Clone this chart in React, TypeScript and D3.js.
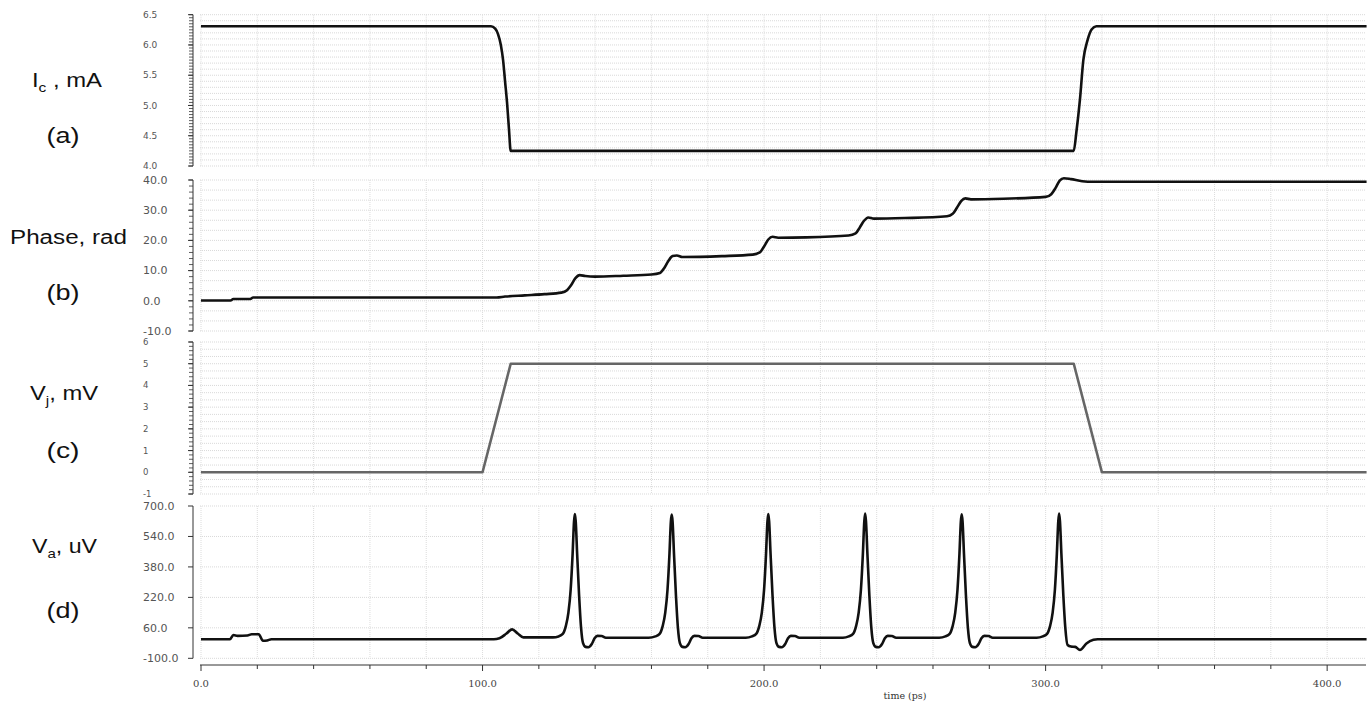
import React from "react";
import * as d3 from "d3";

const W = 1372;
const H = 704;

// time axis (ps)
const timeMax = 413.8;
const timeTicks = [0, 100, 200, 300, 400];

// (a) Ic, mA
const icTicks = [4.0, 4.5, 5.0, 5.5, 6.0, 6.5];
const icData: [number, number][] = [
  [0, 6.31], [103, 6.31], [104.5, 6.27], [105.5, 6.18], [106.5, 6.0], [107.3, 5.75],
  [108, 5.4], [108.7, 5.05], [109.4, 4.6], [110, 4.25], [310, 4.25], [310.9, 4.55],
  [312.2, 5.1], [313.4, 5.75], [314.9, 6.08], [316.4, 6.26], [318, 6.31], [414, 6.31]
];

// (b) Phase, rad
const phaseTicks = [-10, 0, 10, 20, 30, 40];
const phaseData: [number, number][] = [
  [0, 0.1], [10.5, 0.1], [11.5, 0.6], [17.5, 0.6], [18.5, 1.1], [105, 1.1], [108, 1.4],
  [115, 1.8], [122, 2.2], [128, 2.7], [130, 3.5], [131.5, 5.2], [133, 7.5], [134.5, 8.5],
  [136.5, 8.2], [140, 8.0], [150, 8.3], [160, 8.7], [163, 9.2], [164.5, 10.8], [166, 13.2],
  [167.5, 14.8], [169, 15.0], [171, 14.5], [185, 14.8], [196, 15.3], [198.5, 16.0], [200, 18],
  [201.5, 20.3], [203, 21.2], [205, 20.9], [215, 21.0], [230, 21.6], [232.5, 22.3], [234, 24.3],
  [235.5, 26.5], [237, 27.6], [239, 27.2], [250, 27.4], [265, 28.0], [267, 28.8], [268.5, 30.8],
  [270, 33.0], [271.5, 33.9], [273.5, 33.6], [285, 33.8], [300, 34.4], [302, 35.3], [303.5, 37.3],
  [305, 39.8], [306.5, 40.6], [309, 40.3], [313, 39.6], [317, 39.4], [414, 39.4]
];

// (c) Vj, mV
const vjTicks = [-1, 0, 1, 2, 3, 4, 5, 6];
const vjData: [number, number][] = [
  [0, 0], [100, 0], [110, 5], [310, 5], [320, 0], [414, 0]
];

// (d) Va, uV
const vaTicks = [-100, 60, 220, 380, 540, 700];
const vaData: [number, number][] = [
  [0, 0], [10.3, 0], [11.5, 22], [13, 18], [16.5, 20], [18, 26], [20.5, 26], [22, -8], [23.5, -6], [25, 0],
  [104, 0], [106, 5], [108.5, 30], [110.5, 52], [112.5, 30], [114.5, 10], [125, 10],
  [127, 15], [128.5, 28], [129.6, 70], [130.5, 140], [131.3, 260], [132, 450], [132.5, 620], [132.8, 658],
  [133.1, 620], [133.6, 450], [134.3, 230], [135, 60], [135.7, -20], [136.6, -40], [137.6, -42],
  [138.8, -25], [139.8, 5], [140.8, 18], [142.3, 17], [143.8, 8], [159, 8],
  [161.4, 15], [162.9, 28], [164, 70], [164.9, 140], [165.7, 260], [166.4, 450], [166.9, 620], [167.2, 655],
  [167.5, 620], [168, 450], [168.7, 230], [169.4, 60], [170.1, -20], [171, -40], [172, -42],
  [173.2, -25], [174.2, 5], [175.2, 18], [176.7, 17], [178.2, 8], [193.5, 8],
  [195.7, 15], [197.2, 28], [198.3, 70], [199.2, 140], [200, 260], [200.7, 450], [201.2, 620], [201.5, 658],
  [201.8, 620], [202.3, 450], [203, 230], [203.7, 60], [204.4, -20], [205.3, -40], [206.3, -42],
  [207.5, -25], [208.5, 5], [209.5, 18], [211, 17], [212.5, 8], [228, 8],
  [230.1, 15], [231.6, 28], [232.7, 70], [233.6, 140], [234.4, 260], [235.1, 450], [235.6, 620], [235.9, 660],
  [236.2, 620], [236.7, 450], [237.4, 230], [238.1, 60], [238.8, -20], [239.7, -40], [240.7, -42],
  [241.9, -25], [242.9, 5], [243.9, 18], [245.4, 17], [246.9, 8], [262.2, 8],
  [264.4, 15], [265.9, 28], [267, 70], [267.9, 140], [268.7, 260], [269.4, 450], [269.9, 620], [270.2, 657],
  [270.5, 620], [271, 450], [271.7, 230], [272.4, 60], [273.1, -20], [274, -40], [275, -42],
  [276.2, -25], [277.2, 5], [278.2, 18], [279.7, 17], [281.2, 8], [296.8, 8],
  [299, 15], [300.5, 28], [301.6, 70], [302.5, 140], [303.3, 260], [304, 450], [304.5, 620], [304.8, 660],
  [305.1, 620], [305.6, 450], [306.3, 230], [307, 60], [307.8, -30], [309, -38], [310.5, -40],
  [312.2, -56], [314.5, -22], [317, -3], [318.5, 0], [414, 0]
];

// plain hyphen minus like the original plot
const fmt1 = (v: number) => v.toFixed(1);
const fmt0 = (v: number) => v.toFixed(0);

type Panel = {
  key: string;
  domain: [number, number];
  range: [number, number];
  ticks: number[];
  minorStep: number;
  gridStep: number;
  fmt: (v: number) => string;
  fontSize: number;
  data: [number, number][];
  color: string;
  curve: d3.CurveFactory;
};

const panels: Panel[] = [
  { key: "a", domain: [4.0, 6.5], range: [166, 14.7], ticks: icTicks, minorStep: 0.05, gridStep: 0.1,
    fmt: fmt1, fontSize: 9, data: icData, color: "#111", curve: d3.curveMonotoneX },
  { key: "b", domain: [-10, 40], range: [331, 180], ticks: phaseTicks, minorStep: 2, gridStep: 10 / 3,
    fmt: fmt1, fontSize: 11, data: phaseData, color: "#111", curve: d3.curveMonotoneX },
  { key: "c", domain: [-1, 6], range: [494, 342], ticks: vjTicks, minorStep: 0.2, gridStep: 1 / 3,
    fmt: fmt0, fontSize: 8.5, data: vjData, color: "#666", curve: d3.curveLinear },
  { key: "d", domain: [-100, 700], range: [658.3, 506], ticks: vaTicks, minorStep: 0, gridStep: 160,
    fmt: fmt1, fontSize: 11, data: vaData, color: "#111", curve: d3.curveMonotoneX }
];

const X0 = 200;
const X1 = 1366;
const AXIS_X = 193;
const XAXIS_Y = 665;

const sideLabels = [
  { y: 87, main: "I", sub: "c", rest: " , mA", x: 32, len: 70 },
  { y: 244, main: "Phase, rad", sub: "", rest: "", x: 10, len: 117 },
  { y: 400, main: "V", sub: "j", rest: ", mV", x: 30, len: 68 },
  { y: 553, main: "V", sub: "a", rest: ", uV", x: 32, len: 65 }
];
const letterLabels = [
  { y: 143, t: "(a)" },
  { y: 300, t: "(b)" },
  { y: 458, t: "(c)" },
  { y: 618, t: "(d)" }
];

export default function App() {
  const x = d3.scaleLinear().domain([0, timeMax]).range([201, 1366]);
  const vGrid = d3.range(0, 401, 20);
  const minorX = d3.range(0, 414, 20);
  const font = "'Liberation Sans', Arial, sans-serif";

  return (
    <svg width={W} height={H} style={{ position: "absolute", left: 0, top: 0, background: "#fff" }}
      fontFamily={font}>
      <rect width={W} height={H} fill="#fff" />
      {panels.map(p => {
        const y = d3.scaleLinear().domain(p.domain).range(p.range);
        const line = d3.line<[number, number]>().x(d => x(d[0])).y(d => y(d[1])).curve(p.curve);
        const hGrid = d3.range(p.domain[0], p.domain[1] + 1e-6, p.gridStep);
        const minor = p.minorStep > 0 ? d3.range(p.domain[0], p.domain[1] + 1e-6, p.minorStep) : [];
        const [yb, yt] = p.range;
        return (
          <g key={p.key}>
            {hGrid.map((g, i) => (
              <line key={"h" + i} x1={X0} x2={X1} y1={y(g)} y2={y(g)}
                stroke="#d9d9d9" strokeWidth={1} strokeDasharray="1,1" />
            ))}
            {vGrid.map(t => (
              <line key={"v" + t} x1={x(t)} x2={x(t)} y1={yt} y2={yb}
                stroke="#dcdcdc" strokeWidth={1} strokeDasharray="1,1" />
            ))}
            <line x1={AXIS_X} x2={AXIS_X} y1={yt} y2={yb} stroke="#333" strokeWidth={1} />
            {minor.map((m, i) => (
              <line key={"m" + i} x1={AXIS_X - 4} x2={AXIS_X} y1={y(m)} y2={y(m)} stroke="#333" strokeWidth={0.8} />
            ))}
            {p.ticks.map(t => (
              <g key={"t" + t}>
                <line x1={AXIS_X - 5} x2={AXIS_X} y1={y(t)} y2={y(t)} stroke="#333" strokeWidth={1} />
                <text x={143} y={y(t)} dy="0.35em" fontSize={p.fontSize} fill="#555"
                  fontFamily="'DejaVu Sans', sans-serif">{p.fmt(t)}</text>
              </g>
            ))}
            <path d={line(p.data) || ""} fill="none" stroke={p.color} strokeWidth={2.6}
              strokeLinejoin="round" />
          </g>
        );
      })}

      {/* time axis */}
      <line x1={X0} x2={X1} y1={XAXIS_Y} y2={XAXIS_Y} stroke="#333" strokeWidth={1} />
      {minorX.map(t => (
        <line key={"xt" + t} x1={x(t)} x2={x(t)} y1={XAXIS_Y}
          y2={XAXIS_Y + (t % 100 === 0 ? 6 : 4)} stroke="#333" strokeWidth={1} />
      ))}
      {timeTicks.map(t => (
        <text key={"xl" + t} x={x(t)} y={687} textAnchor="middle" fontSize={10} fill="#444"
          fontFamily="'DejaVu Serif', serif">{fmt1(t)}</text>
      ))}
      <text x={905} y={699} textAnchor="middle" fontSize={9.5} fill="#333"
        fontFamily="'DejaVu Serif', serif">time (ps)</text>

      {/* side labels */}
      {sideLabels.map((l, i) => (
        <text key={"s" + i} x={l.x} y={l.y} fontSize={20} fill="#111" textLength={l.len}
          lengthAdjust="spacingAndGlyphs">
          {l.main}
          {l.sub && <tspan fontSize={13} dy={5}>{l.sub}</tspan>}
          {l.sub && <tspan dy={-5}>{l.rest}</tspan>}
        </text>
      ))}
      {letterLabels.map((l, i) => (
        <text key={"l" + i} x={63} y={l.y} fontSize={22} fill="#111" textAnchor="middle"
          textLength={33} lengthAdjust="spacingAndGlyphs">{l.t}</text>
      ))}
    </svg>
  );
}
